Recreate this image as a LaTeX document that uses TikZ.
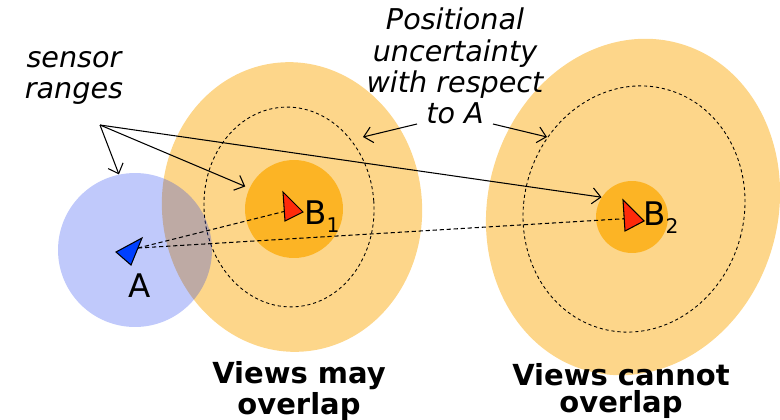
\documentclass[tikz,border=0pt]{standalone}
\usepackage{fontspec}
\setmainfont{DejaVu Sans}
\usetikzlibrary{arrows.meta,shapes.geometric}
\definecolor{uncertlight}{HTML}{FDD68A}
\definecolor{rangeorange}{HTML}{FCB425}
\definecolor{rangeblue}{HTML}{0A2EF0}
\definecolor{robotblue}{HTML}{0040FF}
\definecolor{robotred}{HTML}{FF2A0A}
\tikzset{
  zone/.style={
    ellipse,
    fill=uncertlight,
    inner sep=0pt
  },
  dashzone/.style={
    ellipse,
    draw=black,
    line width=0.5pt,
    dash pattern=on 1.8pt off 1.6pt,
    inner sep=0pt
  },
  rangedisc/.style={
    circle,
    fill=#1,
    inner sep=0pt
  },
  robot/.style={
    fill=#1,
    draw=black,
    line width=0.6pt,
    line join=miter
  },
  note/.style={
    align=center,
    inner sep=0pt,
    font=\itshape\fontsize{16.3}{17.8}\selectfont
  },
  caption/.style={
    align=center,
    inner sep=0pt,
    font=\bfseries\fontsize{16.5}{15.5}\selectfont
  },
  idlabel/.style={
    inner sep=0pt,
    font=\fontsize{18.5}{20}\selectfont
  },
  arrow/.style={
    -{Straight Barb[length=1.7mm,width=3.2mm]},
    line width=0.6pt
  },
  viewline/.style={
    -{Latex[length=1.6mm,width=1.4mm]},
    line width=0.6pt,
    dash pattern=on 2.4pt off 1.6pt
  }
}

\begin{document}
\begin{tikzpicture}[x=0.02cm, y=-0.02cm]
\useasboundingbox (0,0) rectangle (780,419);
% uncertainty regions
\node[zone, minimum width=5.2cm, minimum height=5.8cm, rotate=6] (zone1) at (292,207) {};
\node[zone, minimum width=5.8cm, minimum height=6.8cm, rotate=-16] (zone2) at (633,207) {};
\node[dashzone, minimum width=3.4cm, minimum height=4.0cm, rotate=4] (dash1) at (289,207) {};
\node[dashzone, minimum width=4.4cm, minimum height=4.96cm, rotate=-15] (dash2) at (634,209) {};
% sensor ranges
\node[rangedisc=rangeorange, minimum size=1.96cm] (rangeB1) at (294,209) {};
\node[rangedisc=rangeorange, minimum size=1.44cm] (rangeB2) at (632,217) {};
\node[rangedisc=rangeblue, fill opacity=0.26, minimum size=3.08cm] (rangeA) at (135,250) {};
% robots
\coordinate (posA) at (138,248);
\coordinate (posB1) at (294,209);
\coordinate (posB2) at (636,218);
\draw[viewline] (posA) -- (posB1);
\draw[viewline] (posA) -- (posB2);
\draw[robot=robotblue] (116,252) -- (142,238) -- (131,265) -- cycle;
\draw[robot=robotred] (283,192) -- (303,212) -- (285,221) -- cycle;
\draw[robot=robotred] (623,200) -- (644,221) -- (625,231) -- cycle;
\node[idlabel] (labA) at (140,286) {A};
\node[idlabel, anchor=base west] (labB1) at (304,224) {B\raisebox{-5pt}{\fontsize{11.5}{12}\selectfont 1}};
\node[idlabel, anchor=base west] (labB2) at (643,225) {B\raisebox{-5pt}{\fontsize{11.5}{12}\selectfont 2}};
% annotations
\node[note] (sensor) at (74,78) {sensor\\ranges};
\coordinate (sensorpt) at (100,125);
\draw[arrow] (sensorpt) -- (rangeA.102);
\draw[arrow, shorten >=2.5pt] (sensorpt) -- (rangeB1.155);
\draw[arrow] (sensorpt) -- (rangeB2.147);
\node[note] (uncert) at (455,66) {Positional\\uncertainty\\with respect\\to A};
\coordinate (uncertL) at (417,124);
\coordinate (uncertR) at (493,124);
\coordinate (tipL) at (363,137);
\coordinate (tipR) at (547,137);
\draw[arrow] (uncertL) -- (tipL);
\draw[arrow] (uncertR) -- (tipR);
\node[caption] (may) at (299,391) {Views may\\overlap};
\node[caption] (cannot) at (621,391) {Views cannot\\overlap};
\end{tikzpicture}
\end{document}
